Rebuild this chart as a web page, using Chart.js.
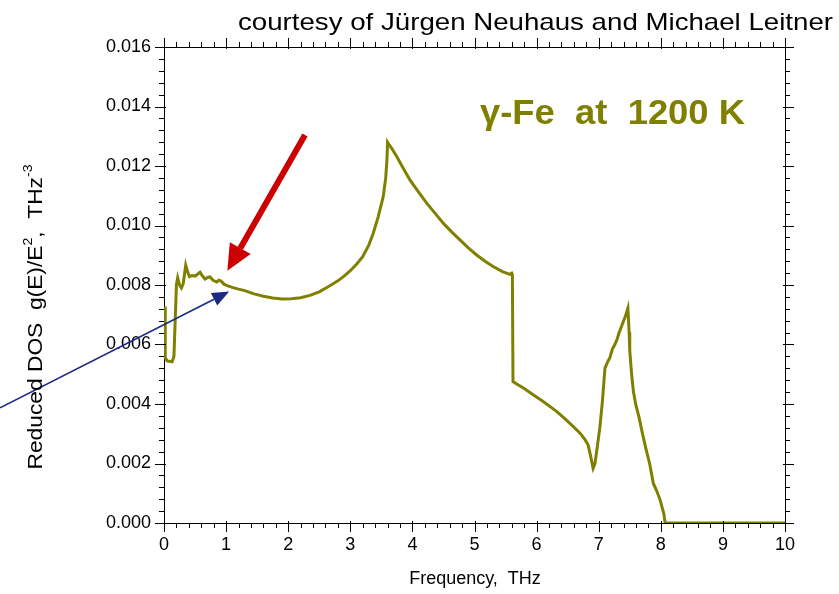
<!DOCTYPE html>
<html>
<head>
<meta charset="utf-8">
<script src="https://cdn.jsdelivr.net/npm/chart.js@4/dist/chart.umd.min.js"></script>
<style>
  html, body { margin: 0; padding: 0; background: #fff; }
  #wrap { width: 839px; height: 594px; }
</style>
</head>
<body>
<div id="wrap"><canvas id="dosChart" width="839" height="594"></canvas></div>
<script>
// reduced phonon DOS of gamma-Fe, frequency in THz
const freq = [
  0.02, 0.02, 0.05, 0.13, 0.16, 0.20, 0.22, 0.25, 0.28, 0.31, 0.35, 0.38, 0.41, 0.45, 0.50,
  0.55, 0.58, 0.62, 0.66, 0.71, 0.74, 0.79, 0.85, 0.88, 0.92, 0.97, 1.03, 1.10, 1.20, 1.30,
  1.45, 1.60, 1.75, 1.90, 2.05, 2.20, 2.35, 2.50, 2.65, 2.80, 2.90, 3.00, 3.10, 3.20, 3.30,
  3.37, 3.45, 3.53, 3.57, 3.59, 3.60, 3.63, 3.68, 3.75, 3.85, 3.96, 4.10, 4.23, 4.37, 4.50,
  4.64, 4.77, 4.90, 5.04, 5.17, 5.30, 5.45, 5.57, 5.60, 5.61, 5.62, 5.80, 5.95, 6.10, 6.22,
  6.35, 6.48, 6.60, 6.70, 6.78, 6.83, 6.87, 6.91, 6.94, 6.98, 7.02, 7.06, 7.10, 7.14, 7.18,
  7.22, 7.26, 7.29, 7.33, 7.38, 7.43, 7.47, 7.49, 7.50, 7.53, 7.56, 7.60, 7.65, 7.70, 7.76,
  7.82, 7.86, 7.88, 7.93, 7.99, 8.05, 8.07, 10.0
];
const dos = [
  0.00728, 0.00556, 0.00545, 0.00542, 0.00560, 0.00800, 0.00824, 0.00800, 0.00790, 0.00805, 0.00867, 0.00845, 0.00828, 0.00832, 0.00830,
  0.00838, 0.00843, 0.00830, 0.00820, 0.00826, 0.00827, 0.00816, 0.00810, 0.00816, 0.00813, 0.00802, 0.00797, 0.00792, 0.00786, 0.00781,
  0.00770, 0.00762, 0.00756, 0.00753, 0.00754, 0.00757, 0.00765, 0.00777, 0.00795, 0.00814, 0.00830, 0.00848, 0.00870, 0.00895, 0.00935,
  0.00974, 0.01030, 0.01097, 0.01160, 0.01220, 0.01280, 0.01270, 0.01255, 0.01231, 0.01193, 0.01153, 0.01112, 0.01075, 0.01040, 0.01007,
  0.00977, 0.00951, 0.00925, 0.00900, 0.00880, 0.00862, 0.00845, 0.00836, 0.00840, 0.00835, 0.00475, 0.00452, 0.00430, 0.00409, 0.00391,
  0.00370, 0.00346, 0.00322, 0.00302, 0.00280, 0.00262, 0.00225, 0.00184, 0.00200, 0.00260, 0.00324, 0.00410, 0.00520, 0.00540, 0.00556,
  0.00585, 0.00600, 0.00614, 0.00640, 0.00668, 0.00695, 0.00722, 0.00640, 0.00580, 0.00500, 0.00440, 0.00395, 0.00355, 0.00305, 0.00250,
  0.00200, 0.00155, 0.00133, 0.00110, 0.00077, 0.00030, 0.00000, 0.00000
];

// axis ticks
const xMajor = [0, 1, 2, 3, 4, 5, 6, 7, 8, 9, 10];
const xMinorStep = 0.2;
const yMajor = [0, 0.002, 0.004, 0.006, 0.008, 0.010, 0.012, 0.014, 0.016];
const yMinorStep = 0.0004;

// annotation arrows, data coordinates [x0, y0, x1, y1] (tip at x1, y1)
const redArrow = [2.27, 0.01304, 1.02, 0.00848];
const blueArrow = [-2.64, 0.00387, 1.05, 0.00778];

const TXT = '"Liberation Sans", Arial, sans-serif';
const OLIVE = '#808000';

function drawArrow(ctx, x0, y0, x1, y1, width, headLen, headHalf, color) {
    const ang = Math.atan2(y1 - y0, x1 - x0);
    const bx = x1 - headLen * Math.cos(ang);
    const by = y1 - headLen * Math.sin(ang);
    ctx.save();
    ctx.strokeStyle = color;
    ctx.fillStyle = color;
    ctx.lineWidth = width;
    ctx.beginPath();
    ctx.moveTo(x0, y0);
    ctx.lineTo(bx, by);
    ctx.stroke();
    ctx.beginPath();
    ctx.moveTo(x1, y1);
    ctx.lineTo(bx + headHalf * Math.sin(ang), by - headHalf * Math.cos(ang));
    ctx.lineTo(bx - headHalf * Math.sin(ang), by + headHalf * Math.cos(ang));
    ctx.closePath();
    ctx.fill();
    ctx.restore();
}

// text squeezed/stretched horizontally to a given width
function fitText(ctx, str, x, y, width, align) {
    const w = ctx.measureText(str).width;
    const k = width / w;
    ctx.save();
    const left = align === 'right' ? x - width : align === 'center' ? x - width / 2 : x;
    ctx.translate(left, y);
    ctx.scale(k, 1);
    ctx.textAlign = 'left';
    ctx.fillText(str, 0, 0);
    ctx.restore();
}

const frameTicks = {
    id: 'frameTicks',
    afterDraw(chart) {
        const ctx = chart.ctx;
        const a = chart.chartArea;
        const xs = chart.scales.x, ys = chart.scales.y;
        ctx.save();
        ctx.strokeStyle = '#000';
        ctx.lineWidth = 1;
        const tick = (x0, y0, x1, y1) => {
            ctx.beginPath(); ctx.moveTo(x0, y0); ctx.lineTo(x1, y1); ctx.stroke();
        };
        for (let v = 0; v <= 10.001; v += xMinorStep) {
            const px = Math.round(xs.getPixelForValue(v)) + 0.5;
            const major = xMajor.some(m => Math.abs(m - v) < 1e-6);
            const len = major ? 9 : 5;
            tick(px, a.bottom, px, a.bottom + len);
            tick(px, a.top, px, a.top - len);
            if (major) { tick(px, a.bottom, px, a.bottom - 2); tick(px, a.top, px, a.top + 2); }
        }
        for (let v = 0; v <= 0.016 + 1e-9; v += yMinorStep) {
            const py = Math.round(ys.getPixelForValue(v)) + 0.5;
            const major = yMajor.some(m => Math.abs(m - v) < 1e-9);
            const len = major ? 9 : 5;
            tick(a.left, py, a.left - len, py);
            tick(a.right, py, a.right + len, py);
            if (major) { tick(a.left, py, a.left + 2, py); tick(a.right, py, a.right - 2, py); }
        }
        ctx.restore();

        // arrows
        const P = (x, y) => [xs.getPixelForValue(x), ys.getPixelForValue(y)];
        let s = P(redArrow[0], redArrow[1]), e = P(redArrow[2], redArrow[3]);
        drawArrow(ctx, s[0], s[1], e[0], e[1], 6, 26, 12, '#cc0000');
        s = P(blueArrow[0], blueArrow[1]); e = P(blueArrow[2], blueArrow[3]);
        drawArrow(ctx, s[0], s[1], e[0], e[1], 1.6, 17, 7, '#1a2a86');

        // texts
        ctx.save();
        ctx.fillStyle = '#000';
        ctx.textBaseline = 'alphabetic';
        ctx.font = '24px ' + TXT;
        fitText(ctx, 'courtesy of Jürgen Neuhaus and Michael Leitner', 833, 30, 595, 'right');

        ctx.font = '18px ' + TXT;
        ctx.textAlign = 'center';
        ctx.fillText('Frequency,  THz', 475, 584);

        ctx.fillStyle = OLIVE;
        ctx.font = 'bold 35px ' + TXT;
        fitText(ctx, 'γ-Fe  at  1200 K', 480, 124, 265, 'left');

        // rotated y title with superscripts
        ctx.fillStyle = '#000';
        ctx.textAlign = 'left';
        ctx.translate(42, 317);
        ctx.rotate(-Math.PI / 2);
        const parts = [
            ['Reduced DOS  g(E)/E', 21, 0],
            ['2', 13, -10],
            [',  THz', 21, 0],
            ['-3', 13, -10]
        ];
        let total = 0;
        parts.forEach(p => { ctx.font = p[1] + 'px ' + TXT; total += ctx.measureText(p[0]).width; });
        const k = 305 / total;
        ctx.scale(k, 1);
        let cx = -total / 2;
        parts.forEach(p => {
            ctx.font = p[1] + 'px ' + TXT;
            ctx.fillText(p[0], cx, p[2]);
            cx += ctx.measureText(p[0]).width;
        });
        ctx.restore();
    }
};

const points = freq.map((f, i) => ({ x: f, y: dos[i] }));

new Chart(document.getElementById('dosChart'), {
    type: 'line',
    data: {
        datasets: [{
            data: points,
            borderColor: OLIVE,
            borderWidth: 3,
            pointRadius: 0,
            tension: 0,
            fill: false
        }]
    },
    options: {
        responsive: false,
        animation: false,
        layout: { padding: 0 },
        plugins: { legend: { display: false }, tooltip: { enabled: false } },
        scales: {
            x: {
                type: 'linear', position: 'bottom', min: 0, max: 10,
                afterFit: s => { s.height = 71; },
                ticks: { stepSize: 1, color: '#000', font: { family: TXT, size: 18 }, padding: 11, maxRotation: 0 },
                grid: { display: false, drawTicks: false },
                border: { display: true, color: '#000', width: 1 }
            },
            x2: {
                type: 'linear', position: 'top', min: 0, max: 10,
                afterFit: s => { s.height = 47; },
                ticks: { display: false },
                grid: { display: false, drawTicks: false },
                border: { display: true, color: '#000', width: 1 }
            },
            y: {
                type: 'linear', position: 'left', min: 0, max: 0.016,
                afterFit: s => { s.width = 164; },
                afterBuildTicks: s => { s.ticks = yMajor.map(v => ({ value: v })); },
                ticks: { color: '#000', font: { family: TXT, size: 18 }, padding: 13,
                    callback: v => v.toFixed(3) },
                grid: { display: false, drawTicks: false },
                border: { display: true, color: '#000', width: 1 }
            },
            y2: {
                type: 'linear', position: 'right', min: 0, max: 0.016,
                afterFit: s => { s.width = 54; },
                ticks: { display: false },
                grid: { display: false, drawTicks: false },
                border: { display: true, color: '#000', width: 1 }
            }
        }
    },
    plugins: [frameTicks]
});
</script>
</body>
</html>
